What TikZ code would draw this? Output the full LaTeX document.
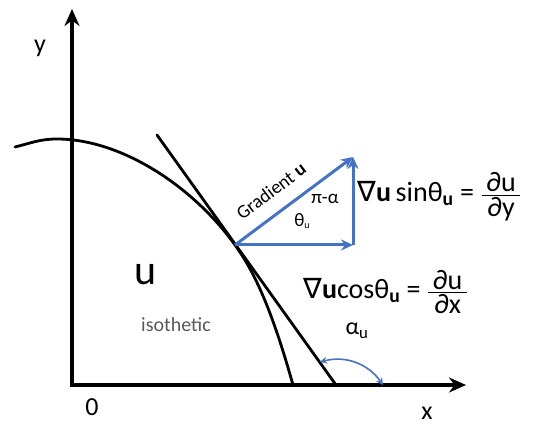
\documentclass[tikz,border=0pt]{standalone}
\usepackage{fontspec}
\setmainfont{Carlito}
\newfontfamily\symf{DejaVu Sans}
\usetikzlibrary{arrows.meta}
\definecolor{gradblue}{RGB}{68,114,196}
\definecolor{txtgray}{RGB}{89,89,89}
\tikzset{
  axis/.style={line width=3.6pt, -{Stealth[length=17pt,width=15pt]}},
  curveline/.style={line width=2.8pt, line cap=round},
  vec/.style={gradblue, line width=3pt, -{Stealth[length=12pt,width=11pt]}},
  anglearc/.style={gradblue, line width=1.6pt,
                   {Stealth[length=7pt,width=7pt]}-{Stealth[length=7pt,width=7pt]}},
  lbl/.style={font=\fontsize{26}{30}\selectfont, inner sep=1pt},
  small/.style={font=\fontsize{19}{22}\selectfont, inner sep=1pt},
  eqn/.style={font=\fontsize{28}{32}\selectfont, inner sep=0pt},
}
\newcommand{\pfrac}[2]{${\hbox{\,#1\,}\above 1.4pt\hbox{\,#2\,}}$}

\begin{document}
\begin{tikzpicture}[x=1pt,y=1pt]
\useasboundingbox (0,0) rectangle (549,427);
% axes
\coordinate (O) at (72,42);
\coordinate (ytop) at (72,418);
\coordinate (xend) at (466,42);
\draw[axis] ([yshift=-1.8pt]O) -- (ytop);
\draw[axis] ([xshift=-1.8pt]O) -- (xend);
% isothetic curve and its tangent
\coordinate (T) at (235,182);
\coordinate (peak) at (57,288);
\coordinate (foot) at (293,42);
\draw[curveline] (15,280) to[out=14, in=180] (peak)
  .. controls (120,288) and (192,242) .. (T)
  .. controls (253,157) and (270.6,122) .. (foot);
\coordinate (tanA) at (157,292);
\coordinate (tanB) at (336,42);
\draw[curveline] (tanA) -- (tanB);
% gradient triangle
\coordinate (B) at (353,182);
\coordinate (C) at (353,270);
\draw[vec] (T) -- (C);
\draw[vec] (T) -- (B);
\draw[vec] (B) -- (C);
\node[small, rotate=37] (grad) at (271,236) {Gradient \textbf{u}};
\node[small] (pia) at (325,228) {π-α};
\node[small] (th) at (302,206) {θ{\fontsize{10}{11}\selectfont\raisebox{-2pt}{u}}};
% components
\node[eqn, anchor=west] (sineq) at (357,230)
  {{\symf ∇}\textbf{u}\,sinθ\textsubscript{\textbf{u}}\ =\ \pfrac{∂u}{∂y}};
\node[eqn, anchor=west] (coseq) at (303,135)
  {{\symf ∇}\textbf{u}cosθ\textsubscript{\textbf{u}}\ =\ \pfrac{∂u}{∂x}};
% angle alpha
\coordinate (arcA) at (320,65);
\coordinate (arcB) at (383,42);
\draw[anglearc] (arcA) to[bend left=35] (arcB);
\node[font=\fontsize{24}{28}\selectfont, inner sep=1pt] (alpha) at (357,96) {α\textsubscript{u}};
% labels
\node[font=\fontsize{42}{46}\selectfont, inner sep=0pt] (ulbl) at (146,152) {u};
\node[font=\fontsize{20}{24}\selectfont, text=txtgray] (iso) at (176,102) {isothetic};
\node[lbl] (ylbl) at (40,379) {y};
\node[lbl] (xlbl) at (427,14) {x};
\node[lbl] (zero) at (92,20) {0};
\end{tikzpicture}
\end{document}
